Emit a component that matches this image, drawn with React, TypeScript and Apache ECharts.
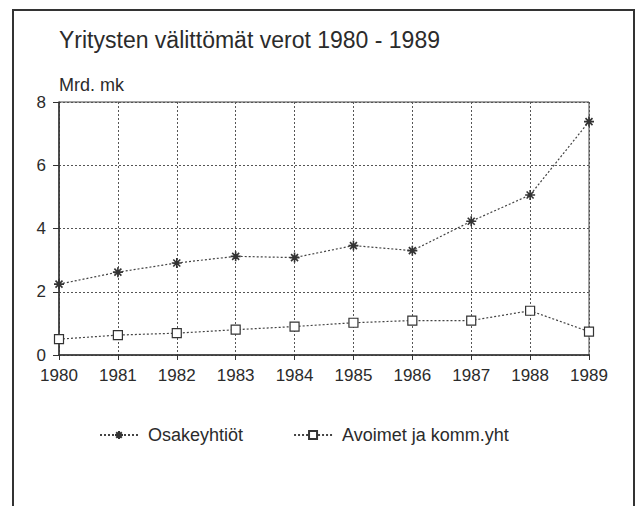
import React, { useEffect, useRef } from "react";
import * as echarts from "echarts";

const years = ["1980", "1981", "1982", "1983", "1984", "1985", "1986", "1987", "1988", "1989"];
const osakeyhtiot = [2.24, 2.62, 2.91, 3.12, 3.08, 3.46, 3.3, 4.23, 5.06, 7.38];
const avoimet = [0.5, 0.63, 0.69, 0.8, 0.9, 1.02, 1.09, 1.09, 1.4, 0.74];
const yTicks = [0, 2, 4, 6, 8];

const titleText = "Yritysten välittömät verot 1980 - 1989";
const unitText = "Mrd. mk";
const seriesNames = ["Osakeyhtiöt", "Avoimet ja komm.yht"];

const FONT = "'Liberation Sans', Arial, Helvetica, sans-serif";
const INK = "#2b2b2b";
const starPath = "path://M5 0L5 10M0 5L10 5M1.5 1.5L8.5 8.5M8.5 1.5L1.5 8.5";

export default function App() {
  const ref = useRef<HTMLDivElement>(null);
  useEffect(() => {
    if (!ref.current) return;
    const chart = echarts.init(ref.current, undefined, { renderer: "svg" });
    chart.setOption({
      animation: false,
      backgroundColor: "#ffffff",
      textStyle: { fontFamily: FONT, color: INK },
      title: [
        {
          text: titleText,
          left: 59,
          top: 28,
          padding: 0,
          textStyle: { fontFamily: FONT, fontSize: 23, fontWeight: "normal", color: INK },
        },
        {
          text: unitText,
          left: 59,
          top: 76,
          padding: 0,
          textStyle: { fontFamily: FONT, fontSize: 18, fontWeight: "normal", color: INK },
        },
      ],
      graphic: [
        {
          type: "rect",
          shape: { x: 13, y: 10, width: 621, height: 520 },
          style: { fill: "none", stroke: "#333", lineWidth: 2 },
          silent: true,
        },
      ],
      grid: {
        left: 59,
        right: 47,
        top: 102,
        bottom: 151,
        show: true,
        borderColor: "#444",
        borderWidth: 1,
        backgroundColor: "transparent",
      },
      legend: {
        left: 99,
        top: 426,
        padding: 0,
        itemGap: 50,
        itemWidth: 38,
        itemHeight: 10,
        textStyle: { fontFamily: FONT, fontSize: 18, color: INK, padding: [0, 0, 0, 5] },
        data: seriesNames,
      },
      xAxis: {
        type: "category",
        data: years,
        boundaryGap: false,
        axisLine: { lineStyle: { color: "#333", width: 1.5 } },
        axisTick: { show: true, length: 5, lineStyle: { color: "#333" } },
        axisLabel: { fontFamily: FONT, fontSize: 17, color: INK, margin: 12 },
        splitLine: { show: true, lineStyle: { type: [2, 2], color: "#555", width: 1 } },
      },
      yAxis: {
        type: "value",
        min: yTicks[0],
        max: yTicks[yTicks.length - 1],
        interval: 2,
        axisLine: { show: true, lineStyle: { color: "#333", width: 1.5 } },
        axisTick: { show: true, length: 6, lineStyle: { color: "#333" } },
        axisLabel: { fontFamily: FONT, fontSize: 17, color: INK, margin: 13 },
        splitLine: { show: true, lineStyle: { type: [2, 2], color: "#555", width: 1 } },
      },
      series: [
        {
          name: seriesNames[0],
          type: "line",
          data: osakeyhtiot,
          symbol: starPath,
          symbolSize: 10,
          showAllSymbol: true,
          lineStyle: { type: [2, 2], color: "#444", width: 1.2 },
          itemStyle: { color: "#333", borderColor: "#333", borderWidth: 1.6 },
        },
        {
          name: seriesNames[1],
          type: "line",
          data: avoimet,
          symbol: "rect",
          symbolSize: 9,
          showAllSymbol: true,
          lineStyle: { type: [2, 2], color: "#444", width: 1.2 },
          itemStyle: { color: "#fff", borderColor: "#333", borderWidth: 1.2 },
        },
      ],
    });
    return () => chart.dispose();
  }, []);
  return (
    <div
      ref={ref}
      style={{ position: "fixed", left: 0, top: 0, width: 636, height: 506 }}
    />
  );
}
